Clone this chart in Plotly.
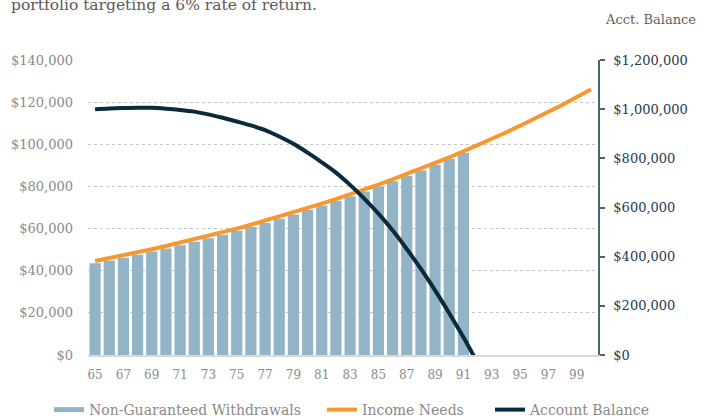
import plotly.graph_objects as go

# ---- data ----
ages = list(range(65, 101))
withdraw_ages = list(range(65, 92))
withdrawals = [43500, 44800, 46200, 47600, 49100, 50600, 52100, 53700, 55400, 57100,
               59000, 60800, 62700, 64700, 66700, 68800, 70900, 73100, 75300, 77600,
               80000, 82500, 85000, 87600, 90300, 93000, 95900]
income_needs = [44600, 45900, 47300, 48700, 50200, 51700, 53300, 54900, 56500, 58200,
                60000, 61800, 63700, 65600, 67600, 69700, 71800, 74000, 76200, 78500,
                80900, 83300, 85800, 88400, 91100, 93800, 96600, 99500, 102500, 105600,
                108800, 112000, 115400, 118800, 122400, 126000]
balance_ages = list(range(65, 93))
balance = [1000000, 1003000, 1005000, 1006000, 1005500, 1002000, 997000, 990000, 979000, 965000,
           950000, 934000, 915000, 889000, 859000, 823000, 784000, 742000, 692000, 636000,
           575000, 507000, 431000, 350000, 263000, 170000, 72000, -32000]
x_tick_vals = list(range(65, 100, 2))
left_tick_vals = list(range(0, 140001, 20000))
left_tick_text = ["$0", "$20,000", "$40,000", "$60,000", "$80,000", "$100,000", "$120,000", "$140,000"]
right_tick_vals = list(range(0, 1200001, 200000))
right_tick_text = ["$0", "$200,000", "$400,000", "$600,000", "$800,000", "$1,000,000", "$1,200,000"]

FONT = "DejaVu Serif"
BAR_C = "#93b4c7"
ORANGE = "#f7982f"
NAVY = "#0b2a3d"
GRAY = "#8a8a8a"

fig = go.Figure()

fig.add_trace(go.Bar(x=withdraw_ages, y=withdrawals, marker=dict(color=BAR_C, line=dict(width=0)),
                     name="Non-Guaranteed Withdrawals", showlegend=False, yaxis="y"))
fig.add_trace(go.Scatter(x=ages, y=income_needs, mode="lines", line=dict(color=ORANGE, width=4),
                         name="Income Needs", showlegend=False, yaxis="y"))
fig.add_trace(go.Scatter(x=balance_ages, y=balance, mode="lines",
                         line=dict(color=NAVY, width=4, shape="spline", smoothing=1),
                         name="Account Balance", showlegend=False, yaxis="y2"))

# legend entries (one legend each so positions can match)
fig.add_trace(go.Scatter(x=[None], y=[None], mode="lines", line=dict(color=BAR_C, width=5),
                         name="Non-Guaranteed Withdrawals", legend="legend"))
fig.add_trace(go.Scatter(x=[None], y=[None], mode="lines", line=dict(color=ORANGE, width=4),
                         name="Income Needs", legend="legend2"))
fig.add_trace(go.Scatter(x=[None], y=[None], mode="lines", line=dict(color=NAVY, width=4),
                         name="Account Balance", legend="legend3"))

L, R, T, B = 88, 104, 60, 64
PW, PH = 702 - L - R, 419 - T - B

def px_x(x):
    return (x - L) / PW

def px_y(y):
    return (419 - B - y) / PH

leg_common = dict(orientation="h", yanchor="middle", xanchor="left",
                  font=dict(family=FONT, size=14, color=GRAY), bgcolor="rgba(0,0,0,0)",
                  itemwidth=30)

fig.update_layout(
    width=702, height=419,
    margin=dict(l=L, r=R, t=T, b=B, autoexpand=False),
    paper_bgcolor="white", plot_bgcolor="white",
    bargap=0.21,
    font=dict(family=FONT, color=GRAY),
    xaxis=dict(range=[64.5, 100.5], tickvals=x_tick_vals, ticktext=[str(v) for v in x_tick_vals],
               showgrid=False, zeroline=False, showline=True, linecolor="#d9d9d9", linewidth=1.5,
               ticks="", tickfont=dict(family=FONT, size=12, color=GRAY), ticklabelstandoff=8,
               automargin=False),
    yaxis=dict(range=[0, 140000], tickvals=left_tick_vals, ticktext=left_tick_text,
               showgrid=True, gridcolor="#c4c4c4", griddash="dot", gridwidth=1,
               zeroline=False, showline=False, ticks="", automargin=False,
               tickfont=dict(family=FONT, size=13, color=GRAY), ticklabelstandoff=14),
    yaxis2=dict(range=[0, 1200000], tickvals=right_tick_vals, ticktext=right_tick_text,
                overlaying="y", side="right", showgrid=False, zeroline=False,
                showline=True, linecolor="#4b6375", linewidth=1.5, automargin=False,
                ticks="outside", ticklen=5, tickcolor="#4b6375", tickwidth=1.5,
                tickfont=dict(family=FONT, size=13, color="#1d3a4e"), ticklabelstandoff=6),
    legend=dict(x=px_x(49), y=px_y(410), **leg_common),
    legend2=dict(x=px_x(322), y=px_y(410), **leg_common),
    legend3=dict(x=px_x(490), y=px_y(410), **leg_common),
    annotations=[
        dict(text="portfolio targeting a 6% rate of return.", xref="paper", yref="paper",
             x=px_x(9), y=px_y(5), xanchor="left", yanchor="middle", showarrow=False,
             font=dict(family=FONT, size=15.5, color="#5a5a5a")),
        dict(text="Acct. Balance", xref="paper", yref="paper",
             x=px_x(698), y=px_y(20), xanchor="right", yanchor="middle", showarrow=False,
             font=dict(family=FONT, size=13, color="#5f5f5f")),
    ],
)

fig.write_html("out.html", config={"displayModeBar": False},
               post_script="document.body.style.margin='0';")
